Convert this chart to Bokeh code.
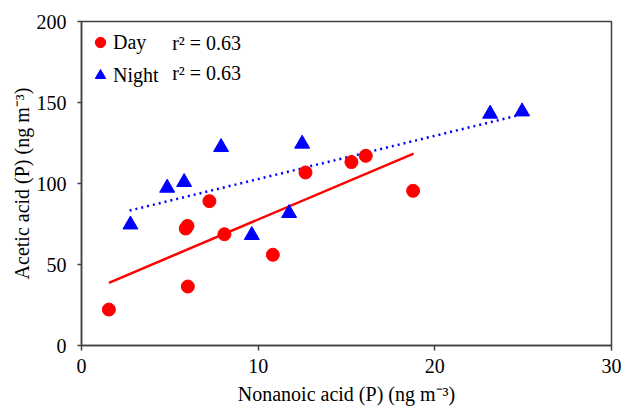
from bokeh.plotting import figure
from bokeh.models import Legend, LegendItem, Label, FixedTicker
from bokeh.embed import file_html
from bokeh.resources import INLINE

# Data
day_x = [1.55, 6.02, 5.9, 6.0, 7.24, 8.09, 10.83, 12.68, 15.28, 16.09, 18.77]
day_y = [22.2, 36.4, 72.2, 73.8, 89.1, 68.7, 56.0, 106.8, 113.2, 117.1, 95.5]
night_x = [2.77, 4.85, 5.81, 7.9, 9.64, 11.75, 12.49, 23.13, 24.94]
night_y = [74.6, 97.3, 100.8, 122.4, 68.1, 81.7, 124.5, 143.0, 144.4]

# Trend lines (end points)
day_fit_x = [1.55, 18.8]
day_fit_y = [38.7, 118.5]
night_fit_x = [2.72, 25.3]
night_fit_y = [83.3, 143.6]

x_ticks = [0, 10, 20, 30]
y_ticks = [0, 50, 100, 150, 200]
r2_labels = ["r\u00b2 = 0.63", "r\u00b2 = 0.63"]

FONT = "Liberation Serif"
FS = "20px"
AXC = "#404040"

p = figure(width=625, height=408, output_backend="svg", toolbar_location=None,
           x_range=(0, 30), y_range=(0, 200),
           min_border_left=81, min_border_right=14, min_border_top=21, min_border_bottom=63)
p.background_fill_color = "white"
p.border_fill_color = "white"
p.outline_line_color = AXC
p.outline_line_width = 1.5
p.xgrid.visible = False
p.ygrid.visible = False

p.axis.axis_line_color = AXC
p.axis.axis_line_width = 1.5
p.axis.major_tick_line_color = AXC
p.axis.major_tick_line_width = 1.5
p.axis.major_tick_in = 0
p.axis.minor_tick_line_color = None
p.axis.major_label_text_font = FONT
p.axis.major_label_text_font_size = FS
p.axis.major_label_text_font_style = "normal"
p.axis.major_label_text_color = "black"
p.axis.axis_label_text_font = FONT
p.axis.axis_label_text_font_size = FS
p.axis.axis_label_text_font_style = "normal"
p.axis.axis_label_text_color = "black"

p.xaxis.ticker = FixedTicker(ticks=x_ticks)
p.yaxis.ticker = FixedTicker(ticks=y_ticks)
p.xaxis.axis_label = "Nonanoic acid (P) (ng m\u207b\u00b3)"
p.yaxis.axis_label = "Acetic acid (P) (ng m\u207b\u00b3)"
p.xaxis.major_tick_out = 5
p.yaxis.major_tick_out = 4
p.xaxis.major_label_standoff = 8
p.xaxis.axis_label_standoff = 7
p.yaxis.major_label_standoff = 11
p.yaxis.axis_label_standoff = 1

p.line(day_fit_x, day_fit_y, line_color="red", line_width=2.5)
p.line(night_fit_x, night_fit_y, line_color="blue", line_width=2.5, line_dash="2 4")

rd = p.scatter(day_x, day_y, marker="circle", size=13, fill_color="red", line_color="red")
bt = p.scatter(night_x, night_y, marker="triangle", size=15, fill_color="blue", line_color="blue")

legend = Legend(items=[LegendItem(label="Day", renderers=[rd]),
                       LegendItem(label="Night", renderers=[bt])],
                location="top_left", orientation="vertical",
                background_fill_alpha=0, border_line_color=None,
                margin=6, padding=12, spacing=3,
                glyph_width=26, glyph_height=30, label_height=30,
                label_standoff=0,
                label_text_font=FONT, label_text_font_style="normal",
                label_text_font_size=FS, label_text_color="black")
p.add_layout(legend)

for lbl, yy in zip(r2_labels, [187.0, 168.0]):
    p.add_layout(Label(x=5.13, y=yy, text=lbl, text_font=FONT, text_font_size=FS,
                       text_baseline="middle", text_align="left", text_color="black"))

open("out.html", "w").write(file_html(p, INLINE))
